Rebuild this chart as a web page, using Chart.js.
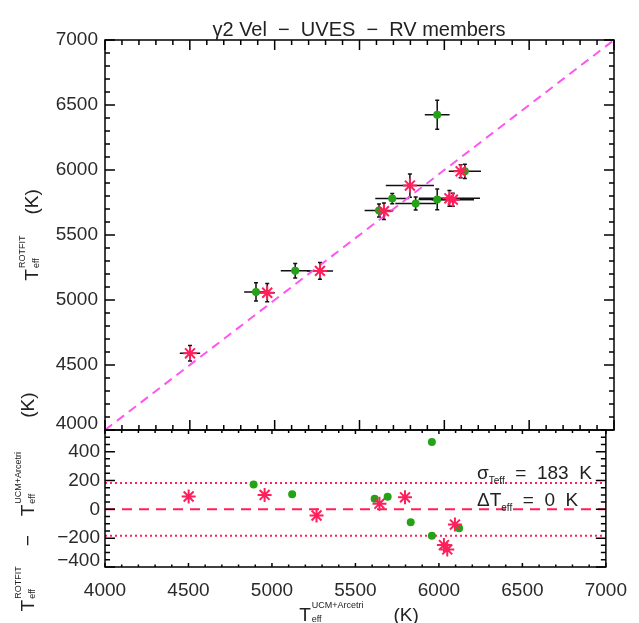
<!DOCTYPE html>
<html>
<head>
<meta charset="utf-8">
<script src="https://cdn.jsdelivr.net/npm/chart.js@4/dist/chart.umd.min.js"></script>
<style>
  html, body { margin: 0; padding: 0; background: #fff; }
  #wrap { position: relative; width: 639px; height: 623px; overflow: hidden;
          font-family: "Liberation Sans", Arial, Helvetica, sans-serif; color: #222; }
  canvas { position: absolute; left: 0; top: 0; }
  .txt { position: absolute; white-space: nowrap; font-size: 19px; line-height: 1; }
  .rot { transform: translate(-50%, -50%) rotate(-90deg); transform-origin: 50% 50%; }
  .ss { display: inline-flex; flex-direction: column; font-size: 9px; line-height: 14px;
        vertical-align: 13px; text-align: left; margin-left: 1px; }
  .sub { font-size: 10px; position: relative; top: 5px; }
  .gap { display: inline-block; }
</style>
</head>
<body>
<div id="wrap">
  <canvas id="cUpper" width="639" height="623"></canvas>
  <canvas id="cLower" width="639" height="623"></canvas>

  <div class="txt" style="left:359px; top:19px; font-size:20px; transform:translateX(-50%);">γ2 Vel&nbsp; −&nbsp; UVES&nbsp; −&nbsp; RV members</div>

  <div class="txt rot" style="left:29px; top:235px;">T<span class="ss"><span>ROTFIT</span><span>eff</span></span><span class="gap" style="width:21px"></span>(K)</div>
  <div class="txt rot" style="left:25px; top:502px;">T<span class="ss"><span>ROTFIT</span><span>eff</span></span><span class="gap" style="width:20px"></span>−<span class="gap" style="width:19px"></span>T<span class="ss"><span>UCM+Arcetri</span><span>eff</span></span><span class="gap" style="width:34px"></span>(K)</div>
  <div class="txt" style="left:359px; top:598px; transform:translateX(-50%);">T<span class="ss"><span>UCM+Arcetri</span><span>eff</span></span><span class="gap" style="width:30px"></span>(K)</div>

  <div class="txt" style="left:477px; top:463px;">σ<span class="sub">Teff</span>&nbsp; =&nbsp; 183&nbsp; K</div>
  <div class="txt" style="left:477px; top:490px;">ΔT<span class="sub">eff</span>&nbsp; =&nbsp; 0&nbsp; K</div>
</div>

<script>
// Effective temperatures of the γ2 Vel UVES RV members (K)
// UCM+Arcetri values (x), ROTFIT values (y) and their 1σ errors.
const greenTeffUCM    = [4890, 5121, 5615, 5693, 5831, 5958, 5958, 6121];
const greenTeffROTFIT = [5062, 5225, 5688, 5780, 5742, 6425, 5774, 5990];
const greenErrUCM     = [70, 85, 85, 100, 120, 73, 110, 95];
const greenErrROTFIT  = [70, 55, 50, 40, 50, 112, 80, 55];

const redTeffUCM      = [4501, 4956, 5267, 5644, 5797, 6030, 6050, 6096];
const redTeffROTFIT   = [4590, 5056, 5224, 5683, 5880, 5782, 5772, 5990];
const redErrUCM       = [60, 45, 77, 50, 142, 180, 125, 40];
const redErrROTFIT    = [60, 70, 64, 64, 90, 60, 50, 50];

// one-to-one relation and the statistics of the differences
const oneToOne   = [4000, 7000];
const meanDiff   = 0;
const sigmaDiff  = 183;

// axis ranges and tick labels
const tempTicks  = [4000, 4500, 5000, 5500, 6000, 6500, 7000];
const diffTicks  = [-400, -200, 0, 200, 400];
const diffRange  = [-400, 550];

const GREEN   = '#25a317';
const RED     = '#ff1f5c';
const MAGENTA = '#ff55f0';
const INK     = '#2a2a2a';
const FAMILY  = '"Liberation Sans", Arial, Helvetica, sans-serif';
const FONT    = { family: FAMILY, size: 19 };

const pts = (xs, ys) => xs.map((x, i) => ({ x, y: ys[i] }));
const diffs = (xs, ys) => xs.map((x, i) => ({ x, y: ys[i] - x }));
const fmt = v => (v < 0 ? '\u2212' + Math.abs(v) : String(v));

// The label sitting on a panel's lower edge is lifted a little so it stays inside the panel
const liftedLabel = low => v => (v === low ? [fmt(v), ''] : fmt(v));
const liftedFont = low => c => ({ family: FAMILY, size: 19,
  lineHeight: c.tick && c.tick.value === low ? '12px' : 1.2 });

// Error bars drawn from the datasets' xErr / yErr arrays
const errorBars = {
  id: 'errorBars',
  beforeDatasetsDraw(chart) {
    const { ctx, scales: { x, y } } = chart;
    ctx.save();
    ctx.strokeStyle = '#111';
    ctx.lineWidth = 1.5;
    chart.data.datasets.forEach(ds => {
      if (!ds.xErr) return;
      ds.data.forEach((p, i) => {
        const px = x.getPixelForValue(p.x), py = y.getPixelForValue(p.y);
        const xl = x.getPixelForValue(p.x - ds.xErr[i]), xr = x.getPixelForValue(p.x + ds.xErr[i]);
        const yt = y.getPixelForValue(p.y + ds.yErr[i]), yb = y.getPixelForValue(p.y - ds.yErr[i]);
        ctx.beginPath();
        ctx.moveTo(xl, py); ctx.lineTo(xr, py);
        ctx.moveTo(px, yt); ctx.lineTo(px, yb);
        ctx.moveTo(px - 2, yt); ctx.lineTo(px + 2, yt);
        ctx.moveTo(px - 2, yb); ctx.lineTo(px + 2, yb);
        ctx.stroke();
      });
    });
    ctx.restore();
  }
};

// Box frame with inward-pointing major / minor ticks on all four sides
function boxFrame(o) {
  return {
    id: 'boxFrame',
    afterDraw(chart) {
      const { ctx, chartArea: a, scales: { x, y } } = chart;
      ctx.save();
      ctx.strokeStyle = '#000';
      ctx.lineWidth = 1.5;
      ctx.strokeRect(a.left, a.top, a.right - a.left, a.bottom - a.top);
      ctx.beginPath();
      const nx = Math.round((x.max - x.min) / o.xMinor);
      for (let k = 0; k <= nx; k++) {
        const v = x.min + k * o.xMinor;
        const major = Math.round(v - o.xBase) % o.xMajor === 0;
        const px = x.getPixelForValue(v);
        const lt = major ? o.topMaj : o.topMin, lb = major ? o.botMaj : o.botMin;
        ctx.moveTo(px, a.top); ctx.lineTo(px, a.top + lt);
        ctx.moveTo(px, a.bottom); ctx.lineTo(px, a.bottom - lb);
      }
      const ny = Math.round((y.max - y.min) / o.yMinor);
      for (let k = 0; k <= ny; k++) {
        const v = y.min + k * o.yMinor;
        const major = Math.round(v - o.yBase) % o.yMajor === 0;
        const py = y.getPixelForValue(v);
        const l = major ? o.yMaj : o.yMin;
        ctx.moveTo(a.left, py); ctx.lineTo(a.left + l, py);
        ctx.moveTo(a.right, py); ctx.lineTo(a.right - l, py);
      }
      ctx.stroke();
      ctx.restore();
    }
  };
}

const common = {
  responsive: false,
  animation: false,
  devicePixelRatio: 1,
  events: [],
  plugins: { legend: { display: false }, tooltip: { enabled: false } }
};

// Upper panel: ROTFIT vs UCM+Arcetri
new Chart(document.getElementById('cUpper'), {
  type: 'scatter',
  data: {
    datasets: [
      { type: 'line', data: pts(oneToOne, oneToOne), borderColor: MAGENTA, borderWidth: 2,
        borderDash: [9, 6], pointRadius: 0, fill: false, order: 3 },
      { data: pts(greenTeffUCM, greenTeffROTFIT), xErr: greenErrUCM, yErr: greenErrROTFIT,
        pointStyle: 'circle', pointRadius: 4, backgroundColor: GREEN, borderColor: GREEN, borderWidth: 0, order: 2 },
      { data: pts(redTeffUCM, redTeffROTFIT), xErr: redErrUCM, yErr: redErrROTFIT,
        pointStyle: 'star', pointRadius: 7, borderColor: RED, backgroundColor: RED, borderWidth: 2, order: 1 }
    ]
  },
  options: {
    ...common,
    layout: { padding: { left: 0, right: 25, top: 40, bottom: 193 } },
    scales: {
      x: { type: 'linear', min: 4000, max: 7000, display: false },
      y: {
        type: 'linear', min: 4000, max: 7000, position: 'left',
        afterFit(s) { s.width = 105; },
        afterBuildTicks(s) { s.ticks = tempTicks.map(v => ({ value: v })); },
        grid: { display: false, drawTicks: false },
        border: { display: false },
        ticks: { padding: 7, color: INK, font: liftedFont(4000), callback: liftedLabel(4000) }
      }
    }
  },
  plugins: [errorBars, boxFrame({ xMinor: 100, xMajor: 500, xBase: 4000, topMaj: 10, topMin: 5, botMaj: 10, botMin: 5,
                                 yMinor: 100, yMajor: 500, yBase: 4000, yMaj: 10, yMin: 5 })]
});

// Lower panel: ROTFIT − UCM+Arcetri differences
new Chart(document.getElementById('cLower'), {
  type: 'scatter',
  data: {
    datasets: [
      { type: 'line', data: pts(oneToOne, oneToOne.map(() => meanDiff)), borderColor: RED, borderWidth: 2,
        borderDash: [10, 7], pointRadius: 0, fill: false, order: 3 },
      { type: 'line', data: pts(oneToOne, oneToOne.map(() => meanDiff + sigmaDiff)), borderColor: RED, borderWidth: 2,
        borderDash: [2, 3], pointRadius: 0, fill: false, order: 3 },
      { type: 'line', data: pts(oneToOne, oneToOne.map(() => meanDiff - sigmaDiff)), borderColor: RED, borderWidth: 2,
        borderDash: [2, 3], pointRadius: 0, fill: false, order: 3 },
      { data: diffs(greenTeffUCM, greenTeffROTFIT), pointStyle: 'circle', pointRadius: 4,
        backgroundColor: GREEN, borderColor: GREEN, borderWidth: 0, order: 2 },
      { data: diffs(redTeffUCM, redTeffROTFIT), pointStyle: 'star', pointRadius: 7,
        borderColor: RED, backgroundColor: RED, borderWidth: 2, order: 1 }
    ]
  },
  options: {
    ...common,
    layout: { padding: { left: 0, right: 25, top: 430, bottom: 0 } },
    scales: {
      x: {
        type: 'linear', min: 4000, max: 7000, position: 'bottom',
        afterFit(s) { s.height = 56; },
        afterBuildTicks(s) { s.ticks = tempTicks.map(v => ({ value: v })); },
        grid: { display: false, drawTicks: false },
        border: { display: false },
        ticks: { padding: 12, color: INK, font: FONT, maxRotation: 0, callback: fmt }
      },
      y: {
        type: 'linear', min: diffRange[0], max: diffRange[1], position: 'left',
        afterFit(s) { s.width = 105; },
        afterBuildTicks(s) { s.ticks = diffTicks.map(v => ({ value: v })); },
        grid: { display: false, drawTicks: false },
        border: { display: false },
        ticks: { padding: 5, color: INK, font: liftedFont(-400), callback: liftedLabel(-400) }
      }
    }
  },
  plugins: [boxFrame({ xMinor: 100, xMajor: 500, xBase: 4000, topMaj: 4, topMin: 3, botMaj: 4, botMin: 2.5,
                       yMinor: 50, yMajor: 200, yBase: -400, yMaj: 10, yMin: 5 })]
});
</script>
</body>
</html>
